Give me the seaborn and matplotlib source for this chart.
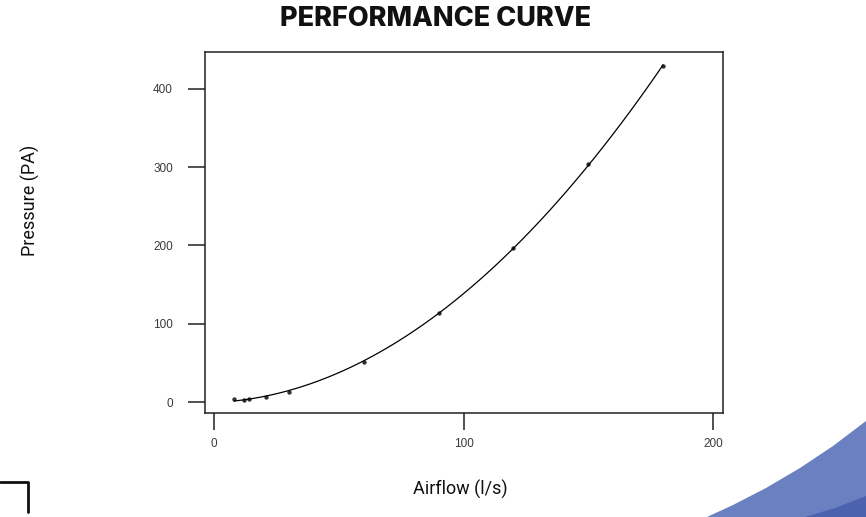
import matplotlib.pyplot as plt
import seaborn as sns
import numpy as np
import pandas as pd
from matplotlib.patches import Polygon
from matplotlib.lines import Line2D

sns.set_theme(style="white")

# data
airflow = [8, 12, 14, 21, 30, 60, 90, 120, 150, 180]
pressure = [4, 3, 4, 6, 13, 51, 114, 197, 304, 429]
x_ticks = [0, 100, 200]
y_ticks = [0, 100, 200, 300, 400]

df = pd.DataFrame({'Airflow': airflow, 'Pressure': pressure})

fig = plt.figure(figsize=(8.66, 5.17), dpi=100)
ax = fig.add_axes([0.2367, 0.2012, 0.5982, 0.6983])

# points plus quadratic fit curve
sns.regplot(data=df, x='Airflow', y='Pressure', order=2, ci=None, ax=ax,
            color='black',
            scatter_kws={'s': 10, 'linewidths': 0},
            line_kws={'lw': 0.9})

ax.set_xlim(-3.6, 204)
ax.set_ylim(-14, 447)
ax.set_xticks(x_ticks)
ax.set_yticks(y_ticks)
for s in ax.spines.values():
    s.set_color('#222222')
    s.set_linewidth(1.1)
ax.tick_params(axis='both', direction='out', length=12, width=1.1, color='#222222',
               labelsize=8.5, labelcolor='#3a3a3a')
ax.tick_params(axis='y', pad=11)
ax.tick_params(axis='x', pad=6)
ax.tick_params(left=True, bottom=True)
for lab in ax.get_xticklabels() + ax.get_yticklabels():
    lab.set_family('Liberation Sans')

ax.set_xlabel('Airflow (l/s)', family='Roboto', fontsize=13, color='#111111')
ax.set_ylabel('Pressure (PA)', family='Roboto', fontsize=13, color='#111111')
ax.xaxis.set_label_coords(0.492, -0.185)
ax.yaxis.set_label_coords(-0.318, 0.59)

fig.text(0.503, 0.963, 'PERFORMANCE CURVE', family='Inter', fontweight='heavy',
         fontsize=19.5, ha='center', va='center', color='#111111')

# decorative corner pieces
fig.add_artist(Line2D([0, 28 / 866, 28 / 866], [1 - 482 / 517, 1 - 482 / 517, 1 - 512 / 517],
                      transform=fig.transFigure, color='#111111', lw=2))
edge_x = [707, 733, 766, 800, 833, 866]
edge_y = [517, 505, 488, 468, 446, 421]
blue_pts = [[ex / 866, 1 - ey / 517] for ex, ey in zip(edge_x, edge_y)] + [[1, 0]]
blue = Polygon(blue_pts, closed=True, transform=fig.transFigure,
               facecolor='#6a80c0', edgecolor='none')
dark = Polygon([[805 / 866, 0], [835 / 866, 1 - 508 / 517], [866 / 866, 1 - 496 / 517], [1, 0]],
               closed=True, transform=fig.transFigure, facecolor='#4b62ae', edgecolor='none')
fig.add_artist(blue)
fig.add_artist(dark)

plt.savefig('out.png', dpi=100)
